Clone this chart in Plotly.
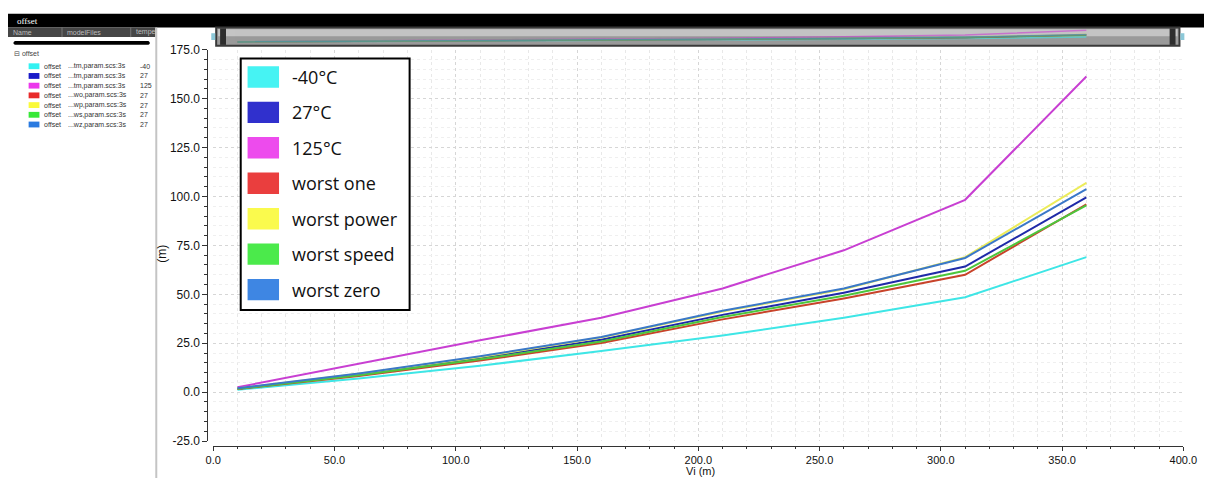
import plotly.graph_objects as go

# sweep points (Vi, mV)
vi = [10, 60, 110, 160, 210, 260, 310, 360]

# offset (mV) per corner
offset_m40 = [1.2, 7.0, 13.5, 21.0, 29.0, 38.0, 48.5, 69.0]
offset_27 = [1.8, 9.0, 17.5, 26.8, 39.5, 50.8, 64.2, 99.5]
offset_125 = [2.5, 14.5, 26.5, 38.0, 53.0, 72.5, 98.3, 161.3]
offset_wo = [1.6, 8.3, 16.2, 25.1, 37.2, 47.9, 60.0, 96.0]
offset_wp = [1.9, 9.4, 18.0, 27.9, 41.2, 52.6, 69.0, 107.0]
offset_ws = [1.7, 8.6, 16.8, 25.9, 38.4, 49.3, 62.0, 95.4]
offset_wz = [2.0, 9.6, 18.4, 28.2, 41.6, 53.0, 68.6, 103.8]

series = [offset_m40, offset_27, offset_125, offset_wo, offset_wp, offset_ws, offset_wz]
names = ["-40°C", "27°C", "125°C", "worst one", "worst power", "worst speed", "worst zero"]
line_colors = ["#3ee6e6", "#1f2aa8", "#c83fd2", "#c8432a", "#ecec5a", "#4cc63c", "#3a78c8"]
swatch_colors = ["#33f2f2", "#1a1ac8", "#ec38ec", "#e82a2a", "#fafa3a", "#38e838", "#2a7ae0"]

# axis ticks (plain hyphen for negatives, like the viewer)
x_ticks = [0, 50, 100, 150, 200, 250, 300, 350, 400]
y_ticks = [-25, 0, 25, 50, 75, 100, 125, 150, 175]

# browser tree on the left
model_files = ["...tm,param.scs:3s", "...tm,param.scs:3s", "...tm,param.scs:3s",
               "...wo,param.scs:3s", "...wp,param.scs:3s", "...ws,param.scs:3s",
               "...wz,param.scs:3s"]
temps = ["-40", "27", "125", "27", "27", "27", "27"]

W, H = 1218, 485


def px(x):
    return x / W


def py(y):
    return 1 - y / H


fig = go.Figure()

# main curves
for ys, name, col in zip(series, names, line_colors):
    fig.add_trace(go.Scatter(x=vi, y=ys, mode="lines", name=name,
                             line=dict(color=col, width=2), showlegend=False))

# tiny overview inside the scrollbar
for ys, col in zip(series, line_colors):
    fig.add_trace(go.Scatter(x=vi, y=ys, mode="lines", xaxis="x2", yaxis="y2",
                             line=dict(color=col, width=1.5), opacity=0.6,
                             showlegend=False, hoverinfo="skip"))

shapes = []
annots = []

# ------------------------
# window chrome
# ------------------------
shapes.append(dict(type="rect", xref="paper", yref="paper", x0=0, x1=1,
                   y0=py(21), y1=py(7), fillcolor="black", line_width=0, layer="below"))
annots.append(dict(x=px(7), y=py(14), xref="paper", yref="paper", text="offset",
                   showarrow=False, xanchor="left", yanchor="middle",
                   font=dict(family="Liberation Serif", size=9, color="white")))

# left browser panel
shapes.append(dict(type="rect", xref="paper", yref="paper", x0=0, x1=px(150),
                   y0=py(31), y1=py(21), fillcolor="#464646", line_width=0, layer="below"))
for cx in [55, 125]:
    shapes.append(dict(type="line", xref="paper", yref="paper", x0=px(cx), x1=px(cx),
                       y0=py(31), y1=py(21), line=dict(color="#777", width=1)))
for txt, cx in [("Name", 3), ("modelFiles", 58), ("tempe", 128)]:
    annots.append(dict(x=px(cx), y=py(26), xref="paper", yref="paper", text=txt,
                       showarrow=False, xanchor="left", yanchor="middle",
                       font=dict(family="Liberation Sans", size=7, color="#bdbdbd")))
shapes.append(dict(type="path", xref="paper", yref="paper",
                   path=f"M {px(7)},{py(35)} L {px(143)},{py(35)} "
                        f"Q {px(146)},{py(37)} {px(143)},{py(39)} L {px(7)},{py(39)} "
                        f"Q {px(4)},{py(37)} {px(7)},{py(35)} Z",
                   fillcolor="black", line_width=0))
shapes.append(dict(type="line", xref="paper", yref="paper", x0=px(151), x1=px(151),
                   y0=0, y1=py(21), line=dict(color="#c4c4c4", width=2)))
annots.append(dict(x=px(4), y=py(48), xref="paper", yref="paper", text="⊟ offset",
                   showarrow=False, xanchor="left", yanchor="middle",
                   font=dict(family="Liberation Sans", size=7, color="#444")))
for i, (mf, tp, col) in enumerate(zip(model_files, temps, swatch_colors)):
    yc = 61 + i * 10
    shapes.append(dict(type="rect", xref="paper", yref="paper", x0=px(21), x1=px(32),
                       y0=py(yc + 3), y1=py(yc - 3), fillcolor=col, line_width=0))
    for txt, cx in [("offset", 35), (mf, 59), (tp, 132)]:
        annots.append(dict(x=px(cx), y=py(yc), xref="paper", yref="paper", text=txt,
                           showarrow=False, xanchor="left", yanchor="middle",
                           font=dict(family="Liberation Sans", size=7, color="#333")))

# scrollbar on top of the plot
shapes.append(dict(type="rect", xref="paper", yref="paper", x0=px(212), x1=px(1193),
                   y0=py(40), y1=py(21), fillcolor="#9a9a9a",
                   line=dict(color="#3a3a3a", width=2), layer="below"))
shapes.append(dict(type="rect", xref="paper", yref="paper", x0=px(214), x1=px(1191),
                   y0=py(30), y1=py(23), fillcolor="#c4c4c4", line_width=0, layer="below"))
for x0, x1 in [(216, 222), (1183, 1189)]:
    shapes.append(dict(type="rect", xref="paper", yref="paper", x0=px(x0), x1=px(x1),
                       y0=py(39), y1=py(22), fillcolor="#2e2e2e", line_width=0))
for x0, x1 in [(207, 211), (1194, 1198)]:
    shapes.append(dict(type="rect", xref="paper", yref="paper", x0=px(x0), x1=px(x1),
                       y0=py(34), y1=py(27), fillcolor="#8cc8d8", line_width=0))

# ------------------------
# legend box
# ------------------------
shapes.append(dict(type="rect", xref="paper", yref="paper", x0=px(237), x1=px(409),
                   y0=py(312), y1=py(53), fillcolor="white",
                   line=dict(color="black", width=2)))
for i, (name, col) in enumerate(zip(names, swatch_colors)):
    yc = 72 + i * 36.5
    shapes.append(dict(type="rect", xref="paper", yref="paper", x0=px(245), x1=px(275),
                       y0=py(yc + 10), y1=py(yc - 10), fillcolor=col,
                       line=dict(color=col, width=2), opacity=0.9))
    annots.append(dict(x=px(287), y=py(yc), xref="paper", yref="paper", text=name,
                       showarrow=False, xanchor="left", yanchor="middle",
                       font=dict(family="Open Sans", size=18, color="#111")))

# axis titles
annots.append(dict(x=px(157), y=py(254), xref="paper", yref="paper", text="(m)",
                   showarrow=False, textangle=-90, xanchor="center", yanchor="middle",
                   font=dict(family="Liberation Sans", size=12, color="#111")))
annots.append(dict(x=px(705), y=py(485), xref="paper", yref="paper", text="Vi (m)",
                   showarrow=False, xanchor="center", yanchor="bottom", borderpad=0,
                   font=dict(family="Liberation Sans", size=11, color="#111")))

fig.update_layout(
    width=W, height=H,
    margin=dict(l=0, r=0, t=0, b=0),
    paper_bgcolor="white",
    plot_bgcolor="white",
    shapes=shapes,
    annotations=annots,
    xaxis=dict(
        domain=[px(209), px(1197)], range=[0, 400],
        tickvals=x_ticks, ticktext=[f"{v:.1f}" for v in x_ticks],
        anchor="free", position=py(452),
        showline=True, linecolor="#333", linewidth=1,
        ticks="outside", ticklen=4, tickcolor="#333",
        tickfont=dict(family="Liberation Sans", size=11, color="#111"),
        showgrid=True, gridcolor="#d6d6d6", griddash="dot", zeroline=False,
        minor=dict(dtick=10, ticks="outside", ticklen=2, tickcolor="#333",
                   showgrid=True, gridcolor="#e8e8e8", griddash="dot"),
    ),
    yaxis=dict(
        domain=[py(447), py(44)], range=[-25, 175],
        tickvals=y_ticks, ticktext=[f"{v:.1f}" for v in y_ticks],
        anchor="free", position=px(203),
        showline=True, linecolor="#333", linewidth=1,
        ticks="outside", ticklen=5, tickcolor="#333",
        tickfont=dict(family="Liberation Sans", size=12, color="#111"),
        showgrid=True, gridcolor="#d6d6d6", griddash="dot", zeroline=False,
        minor=dict(dtick=5, ticks="outside", ticklen=3, tickcolor="#333",
                   showgrid=True, gridcolor="#efefef", griddash="dot"),
    ),
    xaxis2=dict(domain=[px(209), px(1197)], range=[0, 400], visible=False,
                anchor="y2"),
    yaxis2=dict(domain=[py(38), py(23)], range=[-25, 175], visible=False,
                anchor="x2"),
)

# page body has a default 8px margin; drop it so the figure fills the window
fig.write_html("out.html", config={"displayModeBar": False},
               post_script="document.body.style.margin='0px';")
